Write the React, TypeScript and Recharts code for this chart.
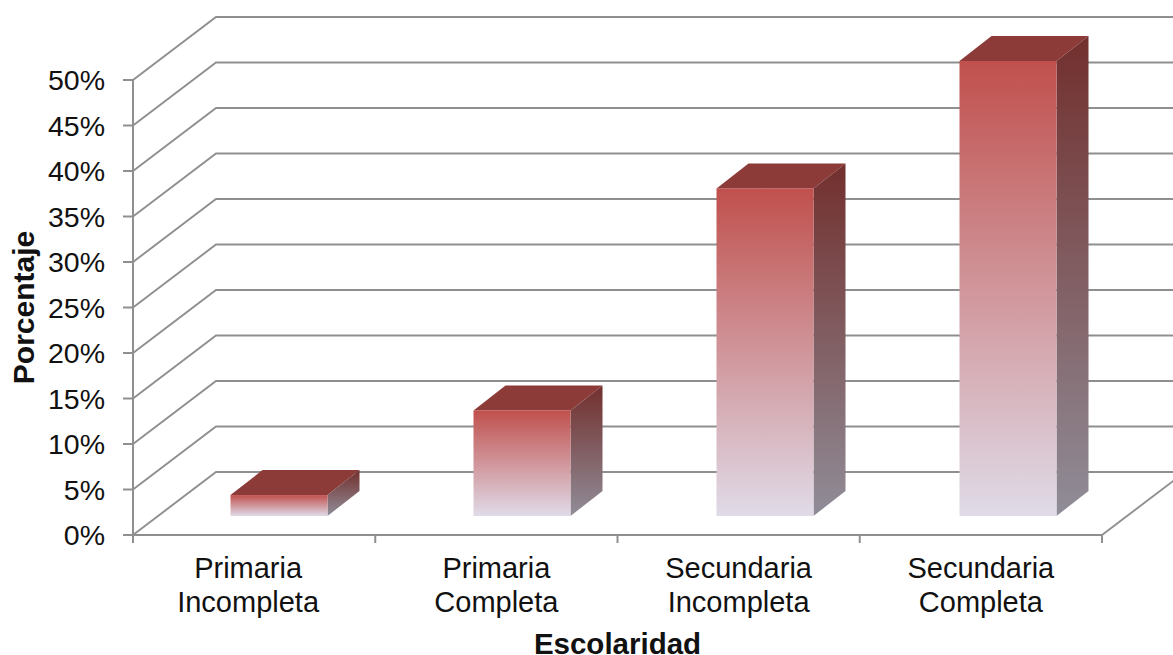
import React from "react";
import {
  BarChart,
  Bar,
  XAxis,
  YAxis,
  CartesianGrid,
  Label,
} from "recharts";

const categorias = [
  "Primaria Incompleta",
  "Primaria Completa",
  "Secundaria Incompleta",
  "Secundaria Completa",
];
const porcentajes = [2.3, 11.6, 36, 50];
const marcasY = [0, 5, 10, 15, 20, 25, 30, 35, 40, 45, 50];

const datos = categorias.map((categoria, i) => ({
  categoria,
  porcentaje: porcentajes[i],
}));

const FUENTE = "'Liberation Sans', Arial, sans-serif";
const COLOR_EJE = "#8f8f8f";
const COLOR_TEXTO = "#111";

// perspectiva de la caja 3D
const FONDO_X = 83;
const FONDO_Y = 63;
// las barras quedan a media profundidad, y su propio grosor
const BARRA_DX = 24.5;
const BARRA_DY = 19;
const PROF_X = 32;
const PROF_Y = 25;
// separacion extra entre barras por la perspectiva
const ABRE_X = 0.75;

// linea de la pared: diagonal por el piso/lateral y luego horizontal al fondo
const LineaGrid = (props: any) => {
  const { x1, x2, y1 } = props;
  const yFondo = y1 - FONDO_Y;
  const esPiso = y1 > 530;
  return (
    <g>
      <path
        d={`M${x1},${y1} L${x1 + FONDO_X},${yFondo} L${x2 + FONDO_X},${yFondo}`}
        fill="none"
        stroke={COLOR_EJE}
        strokeWidth={1.9}
      />
      {esPiso && (
        <line
          x1={x2}
          y1={y1}
          x2={x2 + FONDO_X}
          y2={yFondo}
          stroke={COLOR_EJE}
          strokeWidth={1.9}
        />
      )}
    </g>
  );
};

const Barra3D = (props: any) => {
  const { width, height, index } = props;
  const x = props.x + BARRA_DX + index * ABRE_X;
  const y = props.y - BARRA_DY;
  return (
    <g>
      <polygon
        points={`${x},${y} ${x + PROF_X},${y - PROF_Y} ${x + width + PROF_X},${y - PROF_Y} ${x + width},${y}`}
        fill="#8c3b38"
      />
      <polygon
        points={`${x + width},${y} ${x + width + PROF_X},${y - PROF_Y} ${x + width + PROF_X},${y + height - PROF_Y} ${x + width},${y + height}`}
        fill="url(#caraLateral)"
      />
      <rect x={x} y={y} width={width} height={height} fill="url(#caraFrontal)" />
    </g>
  );
};

const TickCategoria = (props: any) => {
  const { x, y, payload, index } = props;
  const mitad = payload.offset ?? 121;
  const [linea1, linea2] = String(payload.value).split(" ");
  // la primera etiqueta va un poco corrida a la izquierda
  const xTexto = index === 0 ? x - 6 : x;
  return (
    <g>
      <line x1={x - mitad} y1={y} x2={x - mitad} y2={y + 8} stroke={COLOR_EJE} strokeWidth={2} />
      {index === categorias.length - 1 && (
        <line x1={x + mitad} y1={y} x2={x + mitad} y2={y + 8} stroke={COLOR_EJE} strokeWidth={2} />
      )}
      <text
        textAnchor="middle"
        fontFamily={FUENTE}
        fontSize={29}
        fill={COLOR_TEXTO}
      >
        <tspan x={xTexto} y={y + 43}>{linea1}</tspan>
        <tspan x={xTexto} y={y + 77}>{linea2}</tspan>
      </text>
    </g>
  );
};

export default function App() {
  return (
    <div style={{ position: "absolute", left: 0, top: 0 }}>
      <BarChart
        width={1173}
        height={655}
        data={datos}
        margin={{ top: 80, right: 71, bottom: 0, left: 0 }}
        barSize={97}
        style={{ fontFamily: FUENTE }}
      >
        <defs>
          <linearGradient id="caraFrontal" x1="0" y1="0" x2="0" y2="1">
            <stop offset="0%" stopColor="#c0504d" />
            <stop offset="100%" stopColor="#e0dbe8" />
          </linearGradient>
          <linearGradient id="caraLateral" x1="0" y1="0" x2="0" y2="1">
            <stop offset="0%" stopColor="#722f2d" />
            <stop offset="100%" stopColor="#908d98" />
          </linearGradient>
        </defs>
        <CartesianGrid vertical={false} horizontal={<LineaGrid />} />
        <XAxis
          dataKey="categoria"
          height={120}
          interval={0}
          tickLine={false}
          tickSize={0}
          tickMargin={0}
          axisLine={{ stroke: COLOR_EJE, strokeWidth: 2 }}
          tick={<TickCategoria />}
        >
          <Label
            value="Escolaridad"
            position="insideBottom"
            offset={1}
            style={{ fontFamily: FUENTE, fontSize: 29.5, fontWeight: 700, fill: COLOR_TEXTO }}
          />
        </XAxis>
        <YAxis
          width={133}
          domain={[0, 50]}
          ticks={marcasY}
          tickFormatter={(v: number) => `${v}%`}
          tickSize={10}
          tickMargin={18}
          tick={{ fontFamily: FUENTE, fontSize: 28.5, fill: COLOR_TEXTO }}
          tickLine={{ stroke: COLOR_EJE, strokeWidth: 2 }}
          axisLine={{ stroke: COLOR_EJE, strokeWidth: 2 }}
        >
          <Label
            value="Porcentaje"
            angle={-90}
            position="insideLeft"
            offset={23}
            style={{ fontFamily: FUENTE, fontSize: 30, fontWeight: 700, fill: COLOR_TEXTO, textAnchor: "middle" }}
          />
        </YAxis>
        <Bar dataKey="porcentaje" shape={<Barra3D />} isAnimationActive={false} />
      </BarChart>
    </div>
  );
}
